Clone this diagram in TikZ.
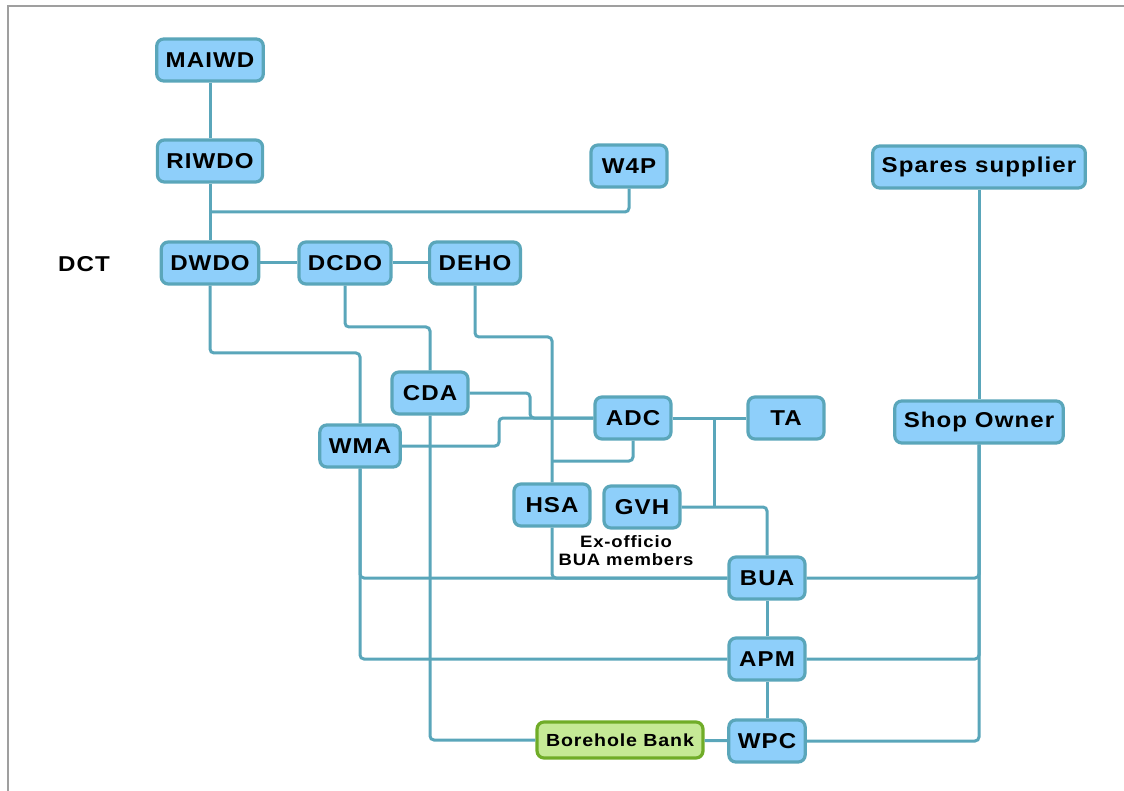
\documentclass[tikz,border=0pt]{standalone}
\usepackage{fontspec}
\usepackage{tikz}
\usetikzlibrary{calc}
\setmainfont{Liberation Sans}[LetterSpace=5,FakeStretch=1.12]
\definecolor{boxfill}{RGB}{142,207,250}
\definecolor{boxline}{RGB}{90,166,186}
\definecolor{bankfill}{RGB}{197,233,150}
\definecolor{bankline}{RGB}{112,172,40}
\tikzset{unit/.style={draw=boxline,fill=boxfill,line width=3.2pt,rounded corners=7pt,
  minimum width=76pt,minimum height=42pt,inner xsep=9pt,
  font=\fontsize{21.5}{25}\selectfont\bfseries},
 bank/.style={unit,draw=bankline,fill=bankfill,minimum height=36pt,
  font=\fontsize{17.5}{20}\selectfont\bfseries},
 link/.style={draw=boxline,line width=3pt,rounded corners=4pt},
 note/.style={font=\fontsize{16.5}{18}\selectfont\bfseries,align=center}}

\begin{document}
\begin{tikzpicture}[x=1pt,y=-1pt]
\useasboundingbox (0,0) rectangle (1124,791);
\draw[gray!75,line width=2.5pt] (8,791)--(8,6)--(1124,6);
% district level
\node[unit] (maiwd) at (210,60) {MAIWD};
\node[unit] (riwdo) at (210,161) {RIWDO};
\node[unit] (w4p) at (629,166) {W4P};
\node[unit] (spares) at (979,167) {Spares supplier};
\node[font=\fontsize{21.5}{25}\selectfont\bfseries] (dct) at (84,264) {DCT};
\node[unit] (dwdo) at (210,263) {DWDO};
\node[unit] (dcdo) at (345,263) {DCDO};
\node[unit] (deho) at (475,263) {DEHO};
% area level
\node[unit] (cda) at (430,393) {CDA};
\node[unit] (adc) at (633,418) {ADC};
\node[unit] (ta) at (786,418) {TA};
\node[unit] (shop) at (979,422) {Shop Owner};
\node[unit] (wma) at (360,446) {WMA};
\node[unit] (hsa) at (552,505) {HSA};
\node[unit] (gvh) at (642,507) {GVH};
\node[note] (exofficio) at (626,551) {Ex-officio\\BUA members};
% village level
\node[unit] (bua) at (767,578) {BUA};
\node[unit] (apm) at (767,659) {APM};
\node[unit] (wpc) at (767,741) {WPC};
\node[bank] (bb) at (620,740) {Borehole Bank};
% links
\draw[link] (maiwd)--(riwdo);
\draw[link] (riwdo)--(dwdo);
\draw[link] (w4p.south) |- ($(riwdo.south)!.5!(dwdo.north)$);
\draw[link] (dwdo)--(dcdo);
\draw[link] (dcdo)--(deho);
\draw[link] (dwdo.south)--(dwdo.south |- 0,353) -| (wma.north);
\draw[link] (dcdo.south)--(dcdo.south |- 0,327) -| (cda.north);
\draw[link] (deho.south)--(deho.south |- 0,337) -| (hsa.north);
\draw[link] (cda.east)--(cda.east -| 530,0) |- (adc.west);
\draw[link] (wma.east)--(wma.east -| 499,0) |- (adc.west);
\draw[link] (adc.south) |- (hsa.north |- 0,461);
\draw[link] (adc)--(ta);
\draw[link] (ta.west -| 714,0)--(gvh.east -| 714,0);
\draw[link] (gvh.east) -| (bua.north);
\draw[link] (hsa.south) |- (bua.west);
\draw[link] (wma.south) |- (bua.west);
\draw[link] (wma.south) |- (apm.west);
\draw[link] (cda.south) |- (bb.west);
\draw[link] (bb)--(wpc);
\draw[link] (bua)--(apm);
\draw[link] (apm)--(wpc);
\draw[link] (spares)--(shop);
\draw[link] (shop.south) |- (bua.east);
\draw[link] (shop.south) |- (apm.east);
\draw[link] (shop.south) |- (wpc.east);
\end{tikzpicture}
\end{document}
